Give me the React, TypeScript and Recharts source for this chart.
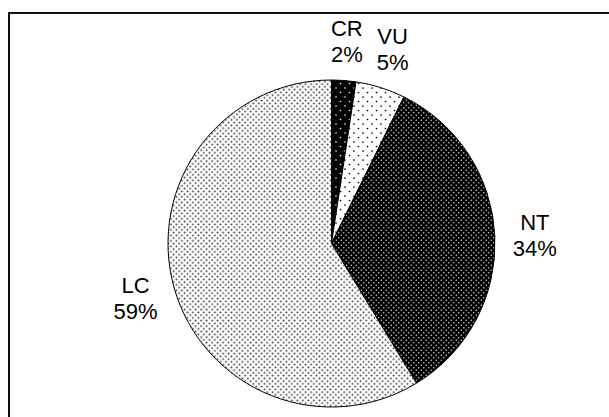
import { PieChart, Pie, Cell } from 'recharts';

// threat categories, clockwise from 12 o'clock
const categories = ['CR', 'VU', 'NT', 'LC'];
const shares = [2.4, 4.9, 34.0, 58.7];

const patternIds = ['patCR', 'patVU', 'patNT', 'patLC'];

const data = categories.map((name, i) => ({ name, value: shares[i] }));

const RAD = Math.PI / 180;

const renderLabel = (props: any) => {
    const { cx, cy, midAngle, outerRadius, name, percent } = props;
    const r = outerRadius + 40;
    const x = cx + r * Math.cos(-midAngle * RAD);
    const y = cy + r * Math.sin(-midAngle * RAD);
    return (
        <text
            x={x}
            y={y}
            textAnchor="middle"
            fontFamily="Arial, 'Liberation Sans', sans-serif"
            fontSize={22}
            fill="#000"
        >
            <tspan x={x} y={y - 5}>{name}</tspan>
            <tspan x={x} y={y + 21}>{Math.round(percent * 100)}%</tspan>
        </text>
    );
};

export default function App() {
    return (
        <div
            style={{
                position: 'fixed',
                left: 8,
                top: 12,
                width: 630,
                height: 430,
                border: '2px solid #111',
                boxSizing: 'border-box',
                background: '#fff'
            }}
        >
            <PieChart width={610} height={410} margin={{ top: 0, right: 0, bottom: 0, left: 0 }}>
                <defs>
                    <pattern id="patCR" patternUnits="userSpaceOnUse" width={9} height={9}>
                        <rect width={9} height={9} fill="#000" />
                        <circle cx={2} cy={2} r={0.8} fill="#fff" />
                        <circle cx={6.5} cy={6.5} r={0.8} fill="#fff" />
                    </pattern>
                    <pattern id="patVU" patternUnits="userSpaceOnUse" width={9} height={9}>
                        <rect width={9} height={9} fill="#fff" />
                        <circle cx={2} cy={2} r={0.85} fill="#000" />
                        <circle cx={6.5} cy={6.5} r={0.85} fill="#000" />
                    </pattern>
                    <pattern id="patNT" patternUnits="userSpaceOnUse" width={5} height={5}>
                        <rect width={5} height={5} fill="#000" />
                        <circle cx={1.25} cy={1.25} r={0.7} fill="#e8e8e8" />
                        <circle cx={3.75} cy={3.75} r={0.7} fill="#e8e8e8" />
                    </pattern>
                    <pattern id="patLC" patternUnits="userSpaceOnUse" width={5.5} height={5.5}>
                        <rect width={5.5} height={5.5} fill="#fff" />
                        <circle cx={1.4} cy={1.4} r={0.95} fill="#333" />
                        <circle cx={4.15} cy={4.15} r={0.95} fill="#333" />
                    </pattern>
                </defs>
                <Pie
                    data={data}
                    dataKey="value"
                    nameKey="name"
                    cx={321.5}
                    cy={229.5}
                    outerRadius={163.5}
                    startAngle={90}
                    endAngle={-270}
                    stroke="#000"
                    strokeWidth={1}
                    label={renderLabel}
                    labelLine={false}
                    isAnimationActive={false}
                >
                    {data.map((d, i) => (
                        <Cell key={d.name} fill={`url(#${patternIds[i]})`} />
                    ))}
                </Pie>
            </PieChart>
        </div>
    );
}
